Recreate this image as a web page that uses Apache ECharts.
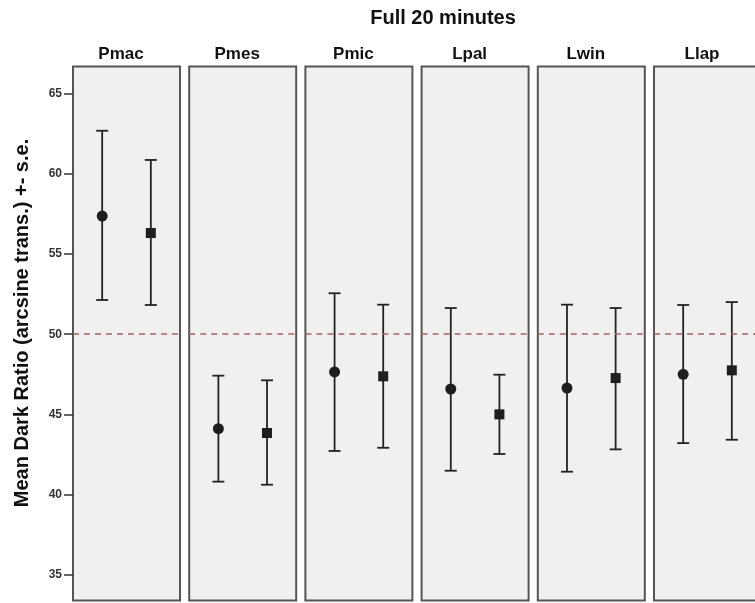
<!DOCTYPE html>
<html><head><meta charset="utf-8">
<script src="https://cdn.jsdelivr.net/npm/echarts@6/dist/echarts.min.js"></script>
<style>html,body{margin:0;padding:0;background:#fff}#c{width:755px;height:603px}</style>
</head><body><div id="c"></div>
<script>
// ---- data ----
const categories = ['Pmac', 'Pmes', 'Pmic', 'Lpal', 'Lwin', 'Llap'];
const circleMean  = [57.36, 44.12, 47.65, 46.59, 46.65, 47.50];
const circleUpper = [62.67, 47.42, 52.55, 51.63, 51.84, 51.82];
const circleLower = [52.13, 40.82, 42.73, 41.50, 41.44, 43.22];
const squareMean  = [56.30, 43.85, 47.38, 45.01, 47.27, 47.75];
const squareUpper = [60.85, 47.13, 51.84, 47.48, 51.63, 52.00];
const squareLower = [51.82, 40.63, 42.93, 42.54, 42.83, 43.43];
const yTicks = [35, 40, 45, 50, 55, 60, 65];
const refValue = 50;
const chartTitle = 'Full 20 minutes';
const yName = 'Mean Dark Ratio (arcsine trans.) +- s.e.';

// ---- layout / style ----
const FONT = "'Liberation Sans', Arial, Helvetica, sans-serif";
const yMin = 33.42, yMax = 66.67;
const grids = [], xAxes = [], yAxes = [], series = [];

function errRender(params, api) {
  const x = api.value(0), lo = api.value(1), hi = api.value(2);
  const pLo = api.coord([x, lo]), pHi = api.coord([x, hi]);
  const hw = 6;
  const style = { stroke: '#222', lineWidth: 1.8 };
  return { type: 'group', children: [
    { type: 'line', shape: { x1: pLo[0], y1: pLo[1], x2: pHi[0], y2: pHi[1] }, style },
    { type: 'line', shape: { x1: pLo[0] - hw, y1: pLo[1], x2: pLo[0] + hw, y2: pLo[1] }, style },
    { type: 'line', shape: { x1: pHi[0] - hw, y1: pHi[1], x2: pHi[0] + hw, y2: pHi[1] }, style }
  ]};
}

categories.forEach((cat, i) => {
  grids.push({
    left: 73 + i * 116.2, top: 66.5, width: 107, height: 534,
    show: true, backgroundColor: '#f0f0f0', borderColor: '#555', borderWidth: 2,
    outerBoundsMode: 'none', containLabel: false
  });
  xAxes.push({
    gridIndex: i, type: 'value', min: -0.6, max: 1.6, position: 'top',
    axisLine: { show: false, onZero: false }, axisTick: { show: false }, axisLabel: { show: false }, splitLine: { show: false },
    name: cat, nameLocation: 'middle', nameGap: 4,
    nameTextStyle: { fontFamily: FONT, fontSize: 17, fontWeight: 'bold', color: '#111', padding: [0, 11, 0, 0] }
  });
  yAxes.push({
    gridIndex: i, type: 'value', min: yMin, max: yMax, position: 'left',
    axisLine: { show: false, onZero: false },
    splitLine: { show: false },
    axisTick: { show: i === 0, length: 9, customValues: yTicks, lineStyle: { color: '#333', width: 1.5 } },
    axisLabel: { show: i === 0, customValues: yTicks, margin: 11, fontFamily: FONT, fontSize: 12, fontWeight: 'bold', color: '#333' },
    name: i === 0 ? yName : '', nameLocation: 'middle', nameRotate: 90, nameGap: 41,
    nameTextStyle: { fontFamily: FONT, fontSize: 20, fontWeight: 'bold', color: '#111', padding: [0, 0, 0, 21] }
  });
  series.push({
    type: 'line', xAxisIndex: i, yAxisIndex: i, data: [], z: 1, silent: true,
    markLine: { silent: true, symbol: 'none', label: { show: false },
      lineStyle: { color: '#b4605a', type: [6, 5], width: 1.5 },
      data: [{ yAxis: refValue }] }
  });
  series.push({
    type: 'custom', xAxisIndex: i, yAxisIndex: i, z: 2, silent: true,
    renderItem: errRender, encode: { x: 0, y: [1, 2] },
    data: [[0, circleLower[i], circleUpper[i]], [1, squareLower[i], squareUpper[i]]]
  });
  series.push({
    type: 'scatter', xAxisIndex: i, yAxisIndex: i, z: 3, silent: true,
    symbol: 'circle', symbolSize: 11, itemStyle: { color: '#1e1e1e', opacity: 1 },
    data: [[0, circleMean[i]]]
  });
  series.push({
    type: 'scatter', xAxisIndex: i, yAxisIndex: i, z: 3, silent: true,
    symbol: 'rect', symbolSize: 10, itemStyle: { color: '#1e1e1e', opacity: 1 },
    data: [[1, squareMean[i]]]
  });
});

const chart = echarts.init(document.getElementById('c'), null, { renderer: 'canvas' });
chart.setOption({
  animation: false,
  backgroundColor: '#ffffff',
  grid: grids, xAxis: xAxes, yAxis: yAxes, series,
  graphic: [{
    type: 'text', x: 443, y: 8,
    style: { text: chartTitle, align: 'center', verticalAlign: 'top', fontFamily: FONT, fontSize: 20, fontWeight: 'bold', fill: '#111' }
  }]
});
</script></body></html>
